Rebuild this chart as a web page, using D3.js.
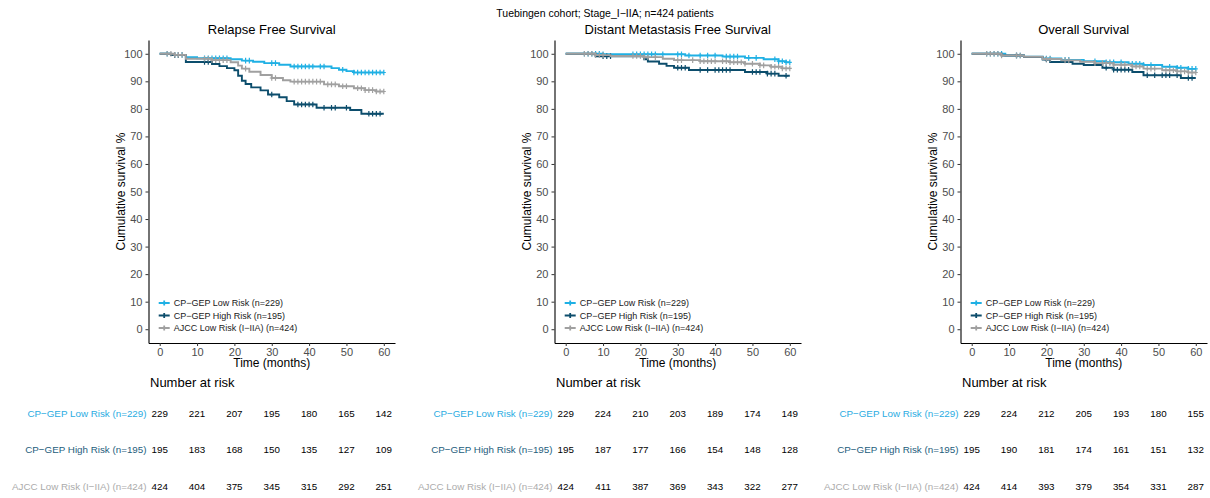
<!DOCTYPE html>
<html>
<head>
<meta charset="utf-8">
<script src="https://cdn.jsdelivr.net/npm/d3@7"></script>
<style>
  html, body { margin: 0; padding: 0; background: #fff; }
  svg text { font-family: "Liberation Sans", Arial, Helvetica, sans-serif; }
</style>
</head>
<body>
<svg id="chart" width="1210" height="498"></svg>
<script>
// ---- data ---------------------------------------------------------------
const mainTitle = "Tuebingen cohort; Stage_I\u2212IIA; n=424 patients";
const panelTitles = ["Relapse Free Survival", "Distant Metastasis Free Survival", "Overall Survival"];
const groupNames = ["CP\u2212GEP Low Risk (n=229)", "CP\u2212GEP High Risk (n=195)", "AJCC Low Risk (I\u2212IIA) (n=424)"];
const groupColors = ["#1fb0e4", "#0c4d6c", "#a0a0a0"];
const tableLabelColors = ["#2aace2", "#1d5d7c", "#ababab"];
const xTicks = [0, 10, 20, 30, 40, 50, 60];
const yTicks = [0, 10, 20, 30, 40, 50, 60, 70, 80, 90, 100];

// Kaplan-Meier step points: [month, survival %]
const rfsLow  = [[0,100],[3,99.6],[7,98.8],[10,98.4],[19,98.0],[22,97.5],[25,97.1],[28,96.6],[32,96.0],[35,95.4],[46,94.8],[48,94.2],[50,93.7],[52,93.2],[60,93.2]];
const rfsHigh = [[0,100],[3,99.5],[7,97.0],[14,96.3],[16,95.5],[18,94.8],[20,94.0],[21,92.0],[22,90.2],[23,89.0],[24.5,87.8],[27,86.7],[29,85.2],[32,84.2],[34,82.8],[36,81.6],[42,80.4],[51,79.6],[54,78.2],[60,78.2]];
const rfsAjcc = [[0,100],[4,99.6],[7,98.2],[14,97.7],[19,96.9],[21,95.7],[22,94.6],[24,93.5],[27,92.3],[30,91.2],[33,90.4],[35,89.9],[44,88.9],[48,88.2],[52,87.5],[55,86.8],[58,86.3],[60,86.3]];

const dmfsLow  = [[0,100],[10,99.8],[32,99.4],[42,99.0],[48,98.5],[53,98.0],[57,97.3],[59,96.9],[60,96.9]];
const dmfsHigh = [[0,100],[8,99.1],[21,98.0],[22,97.2],[25,96.4],[27,95.6],[29,94.9],[33,94.1],[48,93.4],[54,92.8],[57,92.0],[60,92.0]];
const dmfsAjcc = [[0,100],[8,99.5],[12,99.2],[21,98.8],[26,98.2],[29,97.7],[36,97.3],[44,96.9],[48,96.4],[52,95.8],[55,95.3],[58,94.7],[60,94.7]];

const osLow  = [[0,100],[9,99.4],[14,98.9],[19,98.3],[24,97.8],[30,97.3],[36,96.9],[42,96.4],[46,95.9],[51,95.3],[55,94.9],[58,94.5],[60,94.5]];
const osHigh = [[0,100],[8,99.4],[14,98.8],[19,97.9],[21,97.0],[27,96.4],[30,95.9],[35,94.9],[38,94.2],[43,93.4],[46,92.2],[56,91.2],[60,91.2]];
const osAjcc = [[0,100],[8,99.4],[14,98.9],[19,98.1],[24,97.6],[29,97.1],[33,96.6],[38,96.0],[43,95.4],[46,94.6],[51,94.0],[55,93.6],[58,93.2],[60,93.2]];

// censoring times (months)
const rfsLowCens  = [2,4,5,6,12,13,14,15,16,17,18,23,24,30,31,36,37,38,39,40,41,43,44,49,52,53,54,55,56,57,58,59,60];
const rfsHighCens = [4,5,12,13,30,37,38,39,40,41,44,46,47,50,56,57,58,59];
const rfsAjccCens = [2,3,4,5,6,12,13,14,15,16,17,18,23,30,31,36,37,38,39,40,41,42,43,45,46,47,49,50,53,54,55,56,57,58,59,60];
const dmfsLowCens  = [5,6,7,8,9,10,18,19,20,21,22,23,24,26,30,31,33,36,38,40,43,44,45,46,49,51,56,57,58,59,60];
const dmfsHighCens = [10,11,12,30,31,32,36,38,40,41,42,43,44,50,51,52,54,55,56,59];
const dmfsAjccCens = [5,6,7,8,9,10,18,19,20,21,22,24,30,31,34,36,37,38,39,40,42,43,44,45,46,47,48,50,52,53,55,56,57,58,59,60];
const osLowCens  = [4,5,6,7,8,12,13,20,21,25,26,33,36,37,38,40,43,44,45,46,48,53,55,56,58,59,60];
const osHighCens = [12,20,36,38,39,40,41,42,47,49,51,52,53,55,58,59];
const osAjccCens = [4,5,6,7,8,12,13,20,21,25,26,33,35,36,37,38,40,41,43,44,45,47,48,49,52,53,54,55,56,57,58,59,60];

// number at risk at 0,10,...,60 months
const rfsRisk  = [[229,221,207,195,180,165,142],[195,183,168,150,135,127,109],[424,404,375,345,315,292,251]];
const dmfsRisk = [[229,224,210,203,189,174,149],[195,187,177,166,154,148,128],[424,411,387,369,343,322,277]];
const osRisk   = [[229,224,212,205,193,180,155],[195,190,181,174,161,151,132],[424,414,393,379,354,331,287]];

const panels = [
  { title: panelTitles[0], curves: [rfsLow, rfsHigh, rfsAjcc],  cens: [rfsLowCens, rfsHighCens, rfsAjccCens],  risk: rfsRisk },
  { title: panelTitles[1], curves: [dmfsLow, dmfsHigh, dmfsAjcc], cens: [dmfsLowCens, dmfsHighCens, dmfsAjccCens], risk: dmfsRisk },
  { title: panelTitles[2], curves: [osLow, osHigh, osAjcc],   cens: [osLowCens, osHighCens, osAjccCens],   risk: osRisk }
];

// ---- drawing ------------------------------------------------------------
const svg = d3.select("#chart");
const panelStep = 406;

svg.append("text")
  .attr("x", 605).attr("y", 17)
  .attr("text-anchor", "middle")
  .attr("font-size", 10.5).attr("fill", "#000")
  .text(mainTitle);

// survival value at time t for a step curve
function survAt(curve, t) {
  let v = curve[0][1];
  for (const [ti, si] of curve) { if (ti <= t) v = si; else break; }
  return v;
}

panels.forEach((p, i) => {
  const ox = i * panelStep;
  const x = d3.scaleLinear().domain([-3, 63]).range([148.5 + ox, 395 + ox]);
  const y = d3.scaleLinear().domain([-5, 105]).range([343, 40]);
  const g = svg.append("g");

  // title
  g.append("text")
    .attr("x", (x.range()[0] + x.range()[1]) / 2).attr("y", 34)
    .attr("text-anchor", "middle").attr("font-size", 13).attr("fill", "#000")
    .text(p.title);

  // axes
  const yAxis = g.append("g").attr("transform", `translate(${x.range()[0]},0)`)
    .call(d3.axisLeft(y).tickValues(yTicks).tickSize(3).tickSizeOuter(0).tickPadding(3));
  const xAxis = g.append("g").attr("transform", `translate(0,343)`)
    .call(d3.axisBottom(x).tickValues(xTicks).tickSize(3).tickSizeOuter(0).tickPadding(2));
  [yAxis, xAxis].forEach(a => {
    a.select(".domain").attr("stroke", "#000").attr("stroke-width", 1.1);
    a.selectAll(".tick line").attr("stroke", "#333");
    a.selectAll(".tick text").attr("fill", "#4d4d4d").attr("font-size", 11)
      .attr("font-family", "Liberation Sans, Arial, sans-serif");
  });

  g.append("text")
    .attr("transform", `translate(${125 + ox},${y(50)}) rotate(-90)`)
    .attr("text-anchor", "middle").attr("font-size", 12).attr("fill", "#000")
    .text("Cumulative survival %");
  g.append("text")
    .attr("x", x(30)).attr("y", 367)
    .attr("text-anchor", "middle").attr("font-size", 12).attr("fill", "#000")
    .text("Time (months)");

  // curves
  const line = d3.line().x(d => x(d[0])).y(d => y(d[1])).curve(d3.curveStepAfter);
  p.curves.forEach((c, k) => {
    g.append("path").datum(c)
      .attr("d", line)
      .attr("fill", "none").attr("stroke", groupColors[k]).attr("stroke-width", 1.9);
    // censor marks
    g.selectAll(null).data(p.cens[k]).enter().append("path")
      .attr("d", t => {
        const cx = x(t), cy = y(survAt(c, t));
        return `M${cx - 2},${cy}H${cx + 2}M${cx},${cy - 2.8}V${cy + 2.8}`;
      })
      .attr("stroke", groupColors[k]).attr("stroke-width", 1.2).attr("fill", "none");
  });

  // legend
  const leg = g.append("g");
  groupNames.forEach((name, k) => {
    const ly = 303 + k * 12.5;
    const lx = x(0);
    leg.append("path")
      .attr("d", `M${lx - 1},${ly}H${lx + 10}M${lx + 4.5},${ly - 2.5}V${ly + 2.5}`)
      .attr("stroke", groupColors[k]).attr("stroke-width", 1.8).attr("fill", "none");
    leg.append("text")
      .attr("x", lx + 14).attr("y", ly).attr("dy", "0.35em")
      .attr("font-size", 9).attr("fill", "#1a1a1a")
      .text(name);
  });

  // number at risk table
  g.append("text")
    .attr("x", x.range()[0] + 1.5).attr("y", 387)
    .attr("font-size", 13).attr("fill", "#000")
    .text("Number at risk");
  const rowY = [414, 450, 487];
  p.risk.forEach((row, k) => {
    g.append("text")
      .attr("x", x.range()[0] - 2).attr("y", rowY[k]).attr("dy", "0.35em")
      .attr("text-anchor", "end").attr("font-size", 9.8).attr("fill", tableLabelColors[k])
      .text(groupNames[k]);
    g.selectAll(null).data(row).enter().append("text")
      .attr("x", (d, j) => x(xTicks[j])).attr("y", rowY[k]).attr("dy", "0.35em")
      .attr("text-anchor", "middle").attr("font-size", 9.8).attr("fill", "#000")
      .text(d => d);
  });
});
</script>
</body>
</html>
